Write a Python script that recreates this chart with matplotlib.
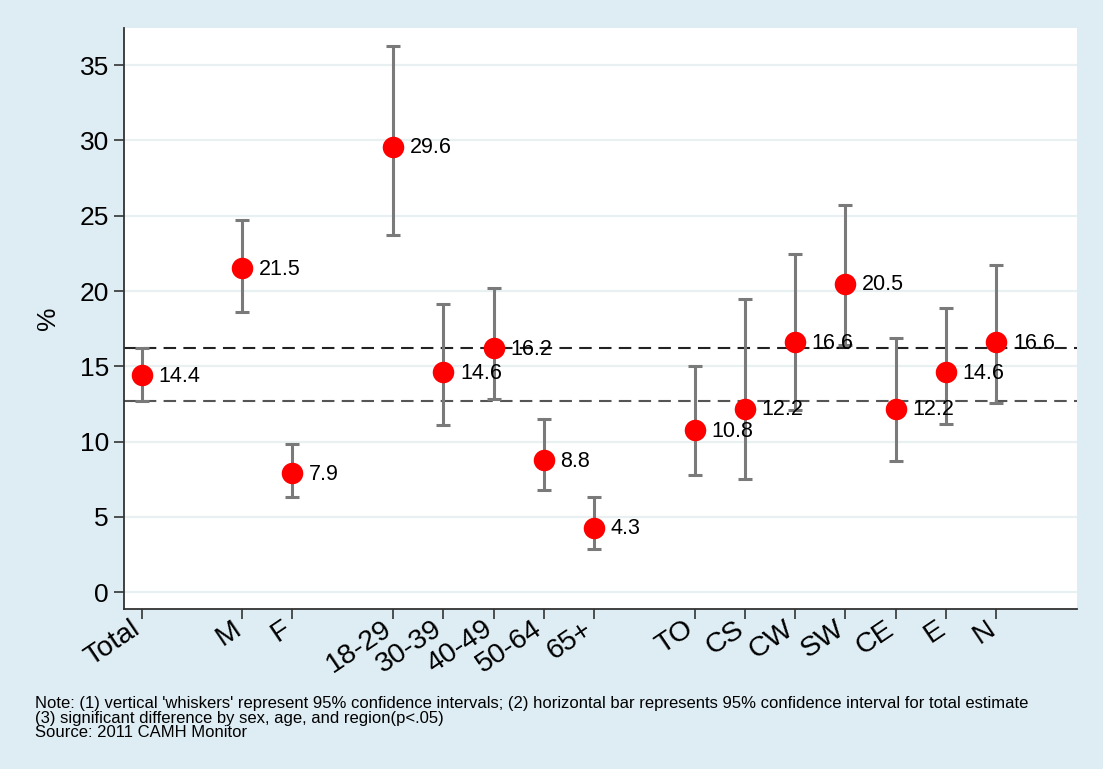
import numpy as np
import matplotlib
matplotlib.use("Agg")
import matplotlib.pyplot as plt

plt.rcParams["font.family"] = ["Liberation Sans", "DejaVu Sans"]

# ----------------------------
# Data
# ----------------------------
labels = ["Total", "M", "F", "18-29", "30-39", "40-49", "50-64", "65+",
          "TO", "CS", "CW", "SW", "CE", "E", "N"]
positions = [1, 3, 4, 6, 7, 8, 9, 10, 12, 13, 14, 15, 16, 17, 18]
estimate = [14.4, 21.5, 7.9, 29.6, 14.6, 16.2, 8.8, 4.3,
            10.8, 12.2, 16.6, 20.5, 12.2, 14.6, 16.6]
ci_low = [12.7, 18.6, 6.35, 23.7, 11.1, 12.85, 6.8, 2.9,
          7.8, 7.5, 12.1, 16.4, 8.7, 11.2, 12.6]
ci_high = [16.25, 24.7, 9.85, 36.3, 19.15, 20.2, 11.5, 6.35,
           15.0, 19.45, 22.45, 25.7, 16.9, 18.9, 21.7]
total_ci = [12.7, 16.2]
y_ticks = [0, 5, 10, 15, 20, 25, 30, 35]

note = ("Note: (1) vertical 'whiskers' represent 95% confidence intervals; "
        "(2) horizontal bar represents 95% confidence interval for total estimate\n"
        "(3) significant difference by sex, age, and region(p<.05)\n"
        "Source: 2011 CAMH Monitor")

BG = "#deedf4"


def main():
    fig = plt.figure(figsize=(11.03, 7.69), dpi=100, facecolor=BG)
    ax = fig.add_axes([0.1121, 0.2081, 0.8641, 0.7551])
    ax.set_facecolor("white")

    x = np.array(positions, dtype=float)
    y = np.array(estimate)
    yerr = np.vstack([y - np.array(ci_low), np.array(ci_high) - y])

    # grid
    for v in y_ticks:
        ax.axhline(v, color="#e8f0f2", lw=1.6, zorder=0)

    # total CI band lines
    for v, c in zip(total_ci, ["#555555", "#222222"]):
        ax.axhline(v, color=c, lw=1.5, dashes=(6, 3.5), zorder=1)

    ax.errorbar(x, y, yerr=yerr, fmt="none", ecolor="#7a7a7a",
                elinewidth=2.2, capsize=5, capthick=2.2, zorder=2)
    ax.plot(x, y, "o", color="#ff0000", markersize=15.5,
            markeredgewidth=0, zorder=3)

    for xi, yi in zip(x, y):
        ax.annotate(f"{yi:.1f}", (xi, yi), xytext=(12, -1),
                    textcoords="offset points", va="center", ha="left",
                    fontsize=15.5, color="black", zorder=4)

    ax.set_xlim(0.644, 19.6)
    ax.set_ylim(-1.11, 37.45)
    ax.set_yticks(y_ticks)
    ax.set_xticks(x)
    ax.set_xticklabels(labels, rotation=34, ha="right", va="baseline",
                       rotation_mode="anchor", fontsize=20.5)
    ax.tick_params(axis="both", colors="#333333",
                   length=7, width=1.2, labelcolor="black")
    ax.tick_params(axis="y", labelsize=19)
    ax.tick_params(axis="x", pad=10)

    for s in ["top", "right"]:
        ax.spines[s].set_visible(False)
    for s in ["left", "bottom"]:
        ax.spines[s].set_color("#333333")
        ax.spines[s].set_linewidth(1.3)

    ax.set_ylabel("%", fontsize=19, labelpad=14)

    fig.text(0.0317, 0.0943, note, fontsize=12, ha="left", va="top",
             linespacing=0.92)

    fig.savefig("out.png", dpi=100, facecolor=BG)


if __name__ == "__main__":
    main()
